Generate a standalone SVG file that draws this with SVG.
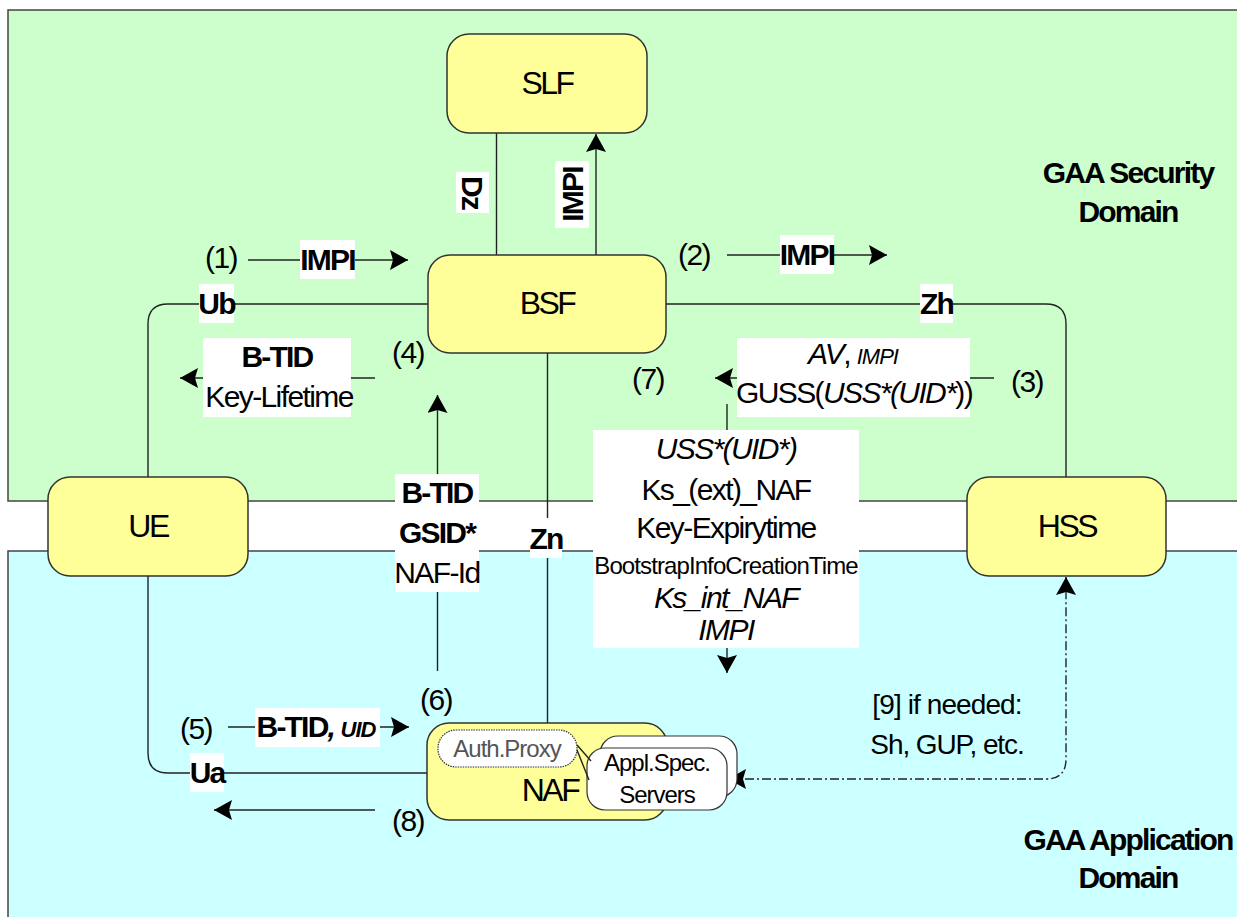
<svg xmlns="http://www.w3.org/2000/svg" width="1237" height="917" viewBox="0 0 1237 917">
<defs>
<marker id="ah" viewBox="0 0 18 20" refX="18" refY="10" markerWidth="18" markerHeight="20" markerUnits="userSpaceOnUse" orient="auto-start-reverse">
<path d="M0,0 L18,10 L0,20 L3,10 z" fill="#000"/>
</marker>
<style>
text{font-family:"Liberation Sans",Arial,sans-serif;fill:#000;text-anchor:middle}
.n{font-size:32px;letter-spacing:-2.5px}
.m{font-size:30px;letter-spacing:-1.6px}
.b{font-size:30px;font-weight:bold;letter-spacing:-1.8px}
.i{font-style:italic}
.dom{font-size:30px;font-weight:bold;letter-spacing:-1.8px}
.s{font-size:24px;letter-spacing:-1px}
.node{fill:#FFFF99;stroke:#333;stroke-width:1.5}
.lbl{fill:#fff}
.c{fill:none;stroke:#222;stroke-width:1.4}
.a{marker-end:url(#ah)}
</style>
</defs>
<g id="domains">
<rect x="8" y="10" width="1240" height="491" fill="#CCFFCC" stroke="#444" stroke-width="1.5"/>
<rect x="8" y="551" width="1240" height="380" fill="#CCFFFF" stroke="#444" stroke-width="1.5"/>
<text class="dom" x="1128" y="183">GAA Security</text>
<text class="dom" x="1128" y="222">Domain</text>
<text class="dom" x="1128" y="850">GAA Application</text>
<text class="dom" x="1128" y="888">Domain</text>
</g>
<g id="connectors">
<path class="c" d="M496.5,133 V255"/>
<path class="c a" d="M596,255 V134"/>
<path class="c" d="M428,304 H168 Q148,304 148,324 V477"/>
<path class="c" d="M148,576 V753 Q148,773 168,773 H428"/>
<path class="c" d="M666,304 H1046 Q1066,304 1066,324 V477"/>
<path class="c" d="M547.5,353 V723"/>
<path class="c a" d="M248,260 H408"/>
<path class="c a" d="M727,255 H887"/>
<path class="c a" d="M375,378 H180"/>
<path class="c a" d="M994,378 H715"/>
<path class="c a" d="M727,404 V673"/>
<path class="c a" d="M437.5,671 V395"/>
<path class="c a" d="M228,727 H409"/>
<path class="c a" d="M375,810 H214"/>
<path class="c" d="M728,779 H1046 Q1066,779 1066,759 V577" stroke-dasharray="9 3 2 3" marker-start="url(#ah)" marker-end="url(#ah)"/>
</g>
<g id="labels">
<rect class="lbl" x="300" y="240" width="55" height="39"/>
<text class="b" x="327.5" y="270">IMPI</text>
<rect class="lbl" x="780" y="235" width="54" height="39"/>
<text class="b" x="807" y="265">IMPI</text>
<rect class="lbl" x="456" y="172" width="33" height="41"/>
<text class="b" transform="translate(472.5,192.5) rotate(90)" y="11">Dz</text>
<rect class="lbl" x="555" y="161" width="34" height="67"/>
<text class="b" transform="translate(572,194.5) rotate(-90)" y="11">IMPI</text>
<rect class="lbl" x="199" y="284" width="35" height="39"/>
<text class="b" x="216.5" y="314">Ub</text>
<rect class="lbl" x="920" y="284" width="33" height="39"/>
<text class="b" x="936.5" y="314">Zh</text>
<rect class="lbl" x="203" y="338" width="148" height="79"/>
<text class="b" x="277" y="367">B-TID</text>
<text class="m" x="279" y="407">Key-Lifetime</text>
<rect class="lbl" x="737" y="338" width="233" height="79"/>
<text class="m" x="853" y="364"><tspan class="i">AV</tspan>, <tspan class="i" font-size="22px" letter-spacing="-1px">IMPI</tspan></text>
<text class="m" x="854" y="403" letter-spacing="-2px">GUSS(<tspan class="i">USS*(UID*</tspan>))</text>
<rect class="lbl" x="395" y="474" width="84" height="118"/>
<text class="b" x="437" y="503">B-TID</text>
<text class="b" x="437" y="543">GSID*</text>
<text class="m" x="437" y="583">NAF-Id</text>
<rect class="lbl" x="530" y="518" width="32" height="40"/>
<text class="b" x="546" y="549">Zn</text>
<rect class="lbl" x="593" y="430" width="266" height="218"/>
<text class="m i" x="726" y="459">USS*(UID*)</text>
<text class="m" x="726" y="500">Ks_(ext)_NAF</text>
<text class="m" x="726" y="538">Key-Expirytime</text>
<text x="726" y="574" font-size="24px" letter-spacing="-0.9px">BootstrapInfoCreationTime</text>
<text class="m i" x="726" y="608">Ks_int_NAF</text>
<text class="m i" x="726" y="640">IMPI</text>
<rect class="lbl" x="255" y="708" width="125" height="39"/>
<text class="b" x="316" y="737">B-TID<tspan class="i">, </tspan><tspan class="i" font-size="22px" letter-spacing="-1px">UID</tspan></text>
<rect class="lbl" x="190" y="753" width="34" height="39"/>
<text class="b" x="207" y="783">Ua</text>
<text class="m" x="221" y="268">(1)</text>
<text class="m" x="694" y="265">(2)</text>
<text class="m" x="1027" y="392">(3)</text>
<text class="m" x="408" y="363">(4)</text>
<text class="m" x="196" y="739">(5)</text>
<text class="m" x="436" y="710">(6)</text>
<text class="m" x="648" y="389">(7)</text>
<text class="m" x="408" y="831">(8)</text>
<text x="947" y="714" font-size="28px" letter-spacing="-0.9px">[9] if needed:</text>
<text x="947" y="754" font-size="28px" letter-spacing="-1.1px">Sh, GUP, etc.</text>
</g>
<g id="SLF">
<rect class="node" x="447" y="34" width="200" height="99" rx="22"/>
<text class="n" x="547" y="94">SLF</text>
</g>
<g id="BSF">
<rect class="node" x="428" y="255" width="238" height="98" rx="22"/>
<text class="n" x="547" y="314">BSF</text>
</g>
<g id="UE">
<rect class="node" x="48" y="477" width="200" height="99" rx="22"/>
<text class="n" x="148" y="537">UE</text>
</g>
<g id="HSS">
<rect class="node" x="967" y="477" width="199" height="99" rx="22"/>
<text class="n" x="1067" y="537">HSS</text>
</g>
<g id="NAF">
<rect class="node" x="427" y="723" width="240" height="97" rx="22"/>
<text class="n" x="550" y="801">NAF</text>
<rect x="438" y="730" width="139" height="37" rx="18" fill="#fff" stroke="#333" stroke-width="1.2" stroke-dasharray="1.5 1"/>
<text class="s" x="507" y="757" style="fill:#555">Auth.Proxy</text>
</g>
<g id="ApplServers">
<rect x="600" y="736" width="137" height="61" rx="18" fill="#fff" stroke="#333" stroke-width="1.2"/>
<rect x="587" y="748" width="140" height="62" rx="18" fill="#fff" stroke="#333" stroke-width="1.2"/>
<text class="s" x="657" y="771">Appl.Spec.</text>
<text class="s" x="657" y="803">Servers</text>
</g>
<path class="c" d="M577,745 L591,761 M577,750 L589,780" stroke-width="1.2"/>
</svg>
